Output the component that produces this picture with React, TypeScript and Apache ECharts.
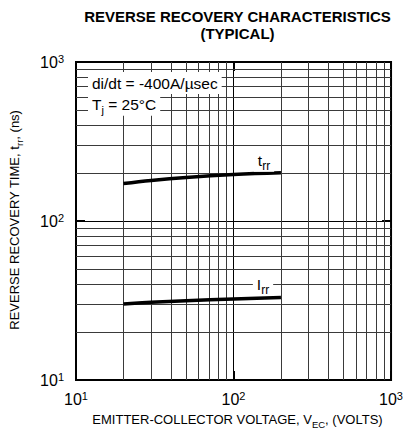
import React, { useEffect, useRef } from 'react';
import * as echarts from 'echarts';

const titleLines = ['REVERSE RECOVERY CHARACTERISTICS', '(TYPICAL)'];
const xMin = 10;
const xMax = 1000;
const yMin = 10;
const yMax = 1000;
const minorX = [20, 30, 40, 50, 60, 70, 80, 90, 200, 300, 400, 500, 600, 700, 800, 900];
const minorY = [20, 30, 40, 50, 60, 70, 80, 90, 200, 300, 400, 500, 600, 700, 800, 900];
const trrX = [20, 30, 50, 100, 200];
const trrY = [172, 180, 188, 196, 201];
const irrX = [20, 30, 50, 100, 200];
const irrY = [30.1, 30.8, 31.5, 32.3, 33];
const condLine1 = 'di/dt = -400A/µsec';
const condLine2 = ['T', 'j', ' = 25°C'];
const xName = ['EMITTER-COLLECTOR VOLTAGE, V', 'EC', ', (VOLTS)'];
const yName = ['REVERSE RECOVERY TIME, t', 'rr', ', (ns)'];

const FONT = '"Liberation Sans", Arial, Helvetica, sans-serif';

const tickFmt = (v: number) => `{b|10}{s|${Math.round(Math.log10(v))}}`;
const tickRich = {
  b: { fontSize: 16, fontFamily: FONT, color: '#000', lineHeight: 18 },
  s: { fontSize: 11, fontFamily: FONT, color: '#000', verticalAlign: 'top', lineHeight: 18 },
};

const subRich = (size: number, subSize: number) => ({
  m: { fontSize: size, fontFamily: FONT, color: '#000', lineHeight: size + 2 },
  u: { fontSize: subSize, fontFamily: FONT, color: '#000', verticalAlign: 'bottom', lineHeight: size + 8 },
});

export default function App() {
  const ref = useRef<HTMLDivElement>(null);
  useEffect(() => {
    if (!ref.current) return;
    const chart = echarts.init(ref.current, undefined, { renderer: 'svg' });
    const axisCommon = {
      type: 'log' as const,
      logBase: 10,
      axisLine: { show: false },
      axisTick: { show: true, inside: true, length: 9, lineStyle: { color: '#000', width: 2 } },
      minorTick: { show: false },
      minorSplitLine: { show: false },
    };
    const option: any = {
      animation: false,
      backgroundColor: '#fff',
      grid: {
        left: 76, right: 11, top: 62, bottom: 51,
        show: true, borderColor: '#000', borderWidth: 2, backgroundColor: 'transparent',
      },
      xAxis: [
        {
          ...axisCommon, min: xMin, max: xMax, position: 'bottom',
          axisLabel: { formatter: tickFmt, rich: tickRich, margin: 10 },
          splitLine: { show: true, lineStyle: { color: '#000', width: 1 } },
        },
        {
          ...axisCommon, min: xMin, max: xMax, position: 'top',
          axisLabel: { show: false }, splitLine: { show: false },
        },
      ],
      yAxis: [
        {
          ...axisCommon, min: yMin, max: yMax, position: 'left',
          axisLabel: { formatter: tickFmt, rich: tickRich, margin: 12 },
          splitLine: { show: true, lineStyle: { color: '#000', width: 1 } },
        },
        {
          ...axisCommon, min: yMin, max: yMax, position: 'right',
          axisLabel: { show: false }, splitLine: { show: false },
        },
      ],
      series: [
        {
          type: 'line', name: 'grid', data: [], z: 1, silent: true,
          markLine: {
            silent: true, symbol: ['none', 'none'], label: { show: false },
            lineStyle: { color: '#3a3a3a', width: 1, type: 'solid' },
            emphasis: { disabled: true },
            data: [
              ...minorX.map((v) => ({ xAxis: v })),
              ...minorY.map((v) => ({ yAxis: v })),
            ],
          },
        },
        {
          type: 'line', name: 'trr', data: trrX.map((x, i) => [x, trrY[i]]), z: 5,
          showSymbol: false, smooth: 0.4, lineStyle: { color: '#000', width: 3.5 },
        },
        {
          type: 'line', name: 'irr', data: irrX.map((x, i) => [x, irrY[i]]), z: 5,
          showSymbol: false, smooth: 0.4, lineStyle: { color: '#000', width: 3.5 },
        },
      ],
      graphic: [
        {
          type: 'text', x: 237.5, y: 16, z: 100,
          style: { text: titleLines[0], font: `bold 15px ${FONT}`, fill: '#000', textAlign: 'center', textVerticalAlign: 'middle' },
        },
        {
          type: 'text', x: 237.5, y: 33, z: 100,
          style: { text: titleLines[1], font: `bold 15px ${FONT}`, fill: '#000', textAlign: 'center', textVerticalAlign: 'middle' },
        },
        {
          type: 'text', x: 237.5, y: 419, z: 100,
          style: {
            text: `{m|${xName[0]}}{u|${xName[1]}}{m|${xName[2]}}`, rich: subRich(13, 9.5),
            textAlign: 'center', textVerticalAlign: 'middle',
          },
        },
        {
          type: 'text', x: 14, y: 220, z: 100, rotation: Math.PI / 2,
          style: {
            text: `{m|${yName[0]}}{u|${yName[1]}}{m|${yName[2]}}`, rich: subRich(13, 9.5),
            textAlign: 'center', textVerticalAlign: 'middle',
          },
        },
        {
          type: 'text', x: 88, y: 83, z: 100,
          style: {
            text: condLine1, font: `15.5px ${FONT}`, fill: '#000',
            textAlign: 'left', textVerticalAlign: 'middle',
            backgroundColor: '#fff', padding: [3, 4, 3, 4],
          },
        },
        {
          type: 'text', x: 88, y: 104, z: 100,
          style: {
            text: `{m|${condLine2[0]}}{u|${condLine2[1]}}{m|${condLine2[2]}}`, rich: subRich(15.5, 11),
            textAlign: 'left', textVerticalAlign: 'middle',
            backgroundColor: '#fff', padding: [0, 4, 0, 4],
          },
        },
        {
          type: 'text', x: 264, y: 160, z: 100,
          style: {
            text: '{m|t}{u|rr}', rich: subRich(15.5, 12),
            textAlign: 'center', textVerticalAlign: 'middle',
            backgroundColor: '#fff', padding: [0, 4, 0, 4],
          },
        },
        {
          type: 'text', x: 263, y: 284, z: 100,
          style: {
            text: '{m|I}{u|rr}', rich: subRich(15.5, 12),
            textAlign: 'center', textVerticalAlign: 'middle',
            backgroundColor: '#fff', padding: [0, 4, 0, 4],
          },
        },
      ],
    };
    chart.setOption(option);
    return () => chart.dispose();
  }, []);
  return <div ref={ref} style={{ position: 'fixed', left: 0, top: 0, width: 406, height: 431 }} />;
}
